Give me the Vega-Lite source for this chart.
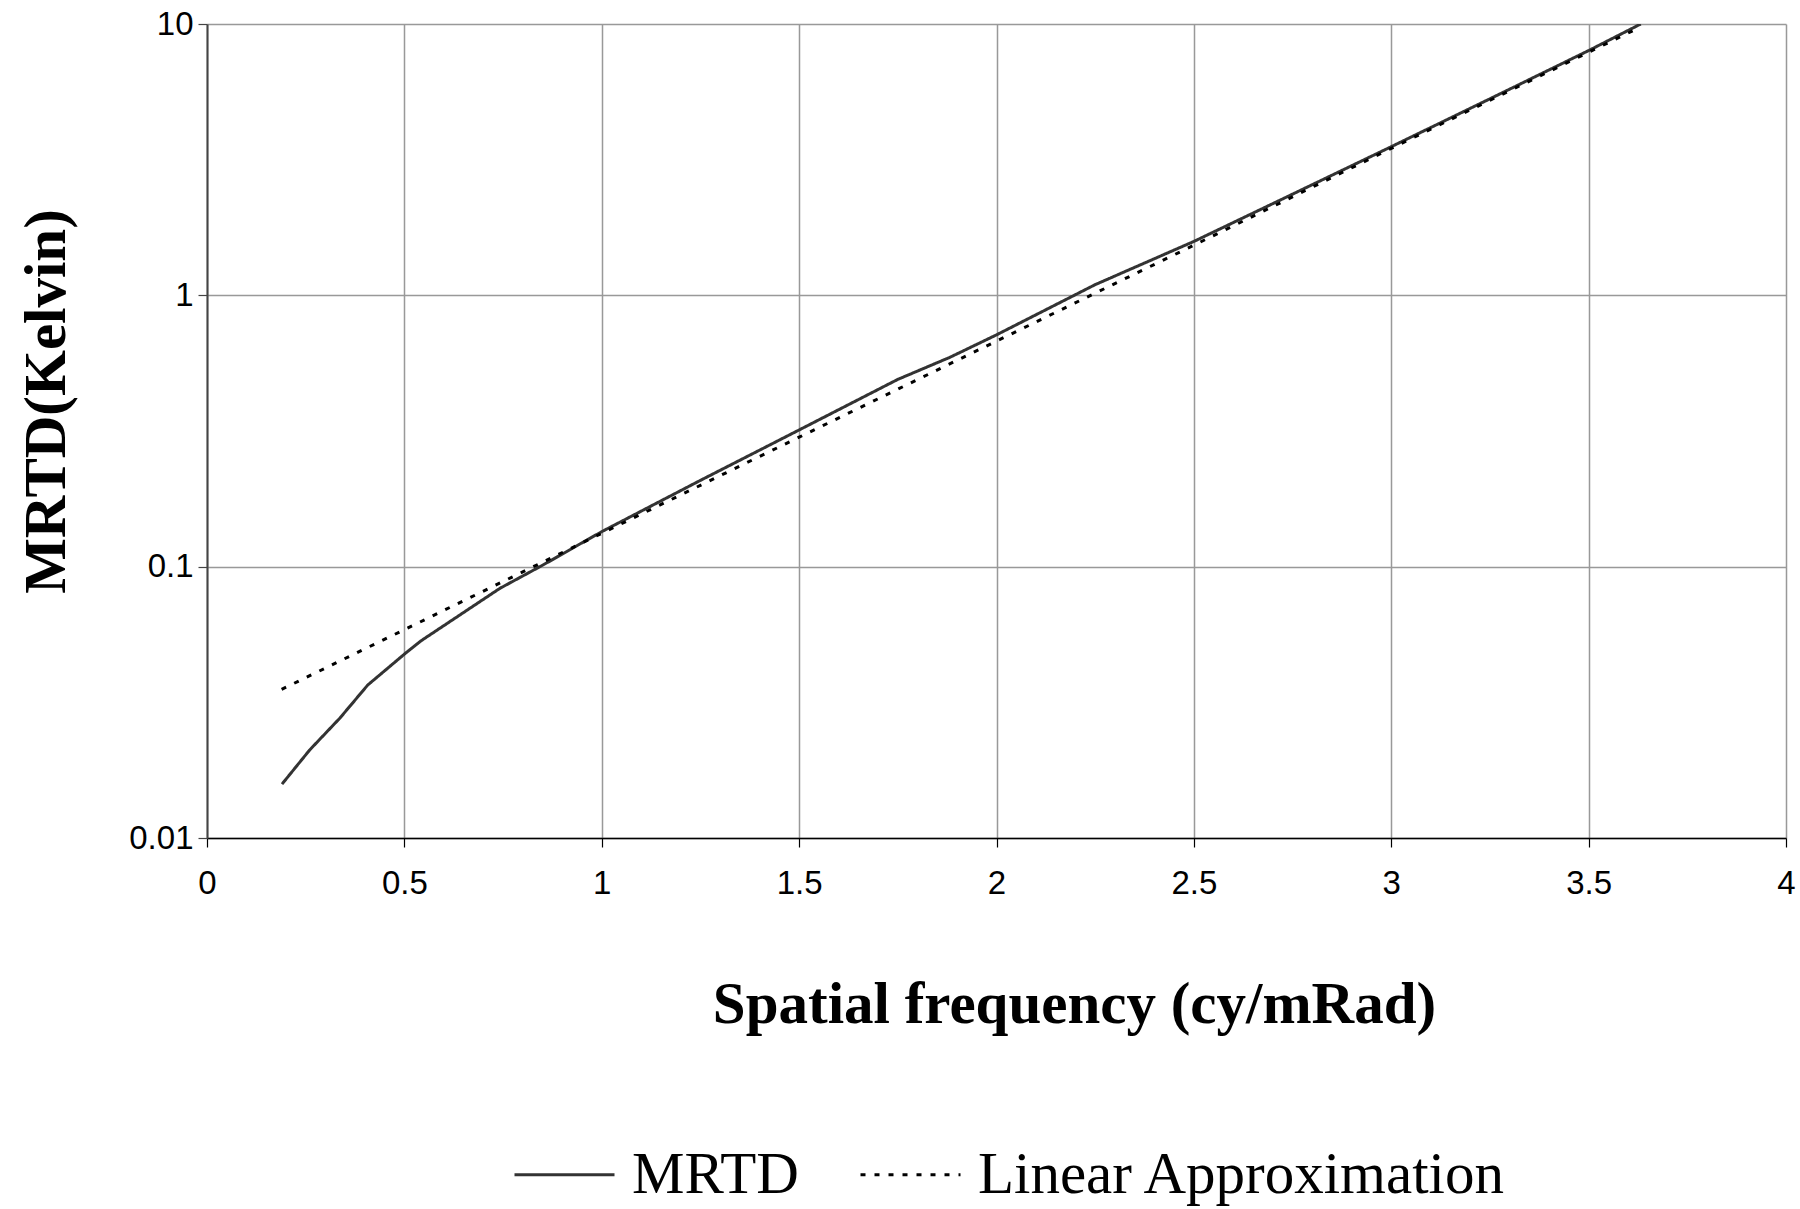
{
  "$schema": "https://vega.github.io/schema/vega-lite/v6.json",
  "width": 1579,
  "height": 814,
  "autosize": {"type": "none"},
  "padding": {"left": 207, "top": 24, "right": 14, "bottom": 371},
  "background": "white",
  "data": {
    "values": [
      {"freq": 0.19, "mrtd": 0.0158, "series": "MRTD"},
      {"freq": 0.26, "mrtd": 0.0211, "series": "MRTD"},
      {"freq": 0.337, "mrtd": 0.0277, "series": "MRTD"},
      {"freq": 0.407, "mrtd": 0.0366, "series": "MRTD"},
      {"freq": 0.503, "mrtd": 0.048, "series": "MRTD"},
      {"freq": 0.543, "mrtd": 0.0534, "series": "MRTD"},
      {"freq": 0.742, "mrtd": 0.0832, "series": "MRTD"},
      {"freq": 0.851, "mrtd": 0.1014, "series": "MRTD"},
      {"freq": 1.0, "mrtd": 0.1346, "series": "MRTD"},
      {"freq": 1.25, "mrtd": 0.208, "series": "MRTD"},
      {"freq": 1.5, "mrtd": 0.319, "series": "MRTD"},
      {"freq": 1.75, "mrtd": 0.49, "series": "MRTD"},
      {"freq": 1.882, "mrtd": 0.591, "series": "MRTD"},
      {"freq": 2.0, "mrtd": 0.715, "series": "MRTD"},
      {"freq": 2.25, "mrtd": 1.095, "series": "MRTD"},
      {"freq": 2.5, "mrtd": 1.58, "series": "MRTD"},
      {"freq": 2.75, "mrtd": 2.36, "series": "MRTD"},
      {"freq": 3.0, "mrtd": 3.53, "series": "MRTD"},
      {"freq": 3.25, "mrtd": 5.3, "series": "MRTD"},
      {"freq": 3.5, "mrtd": 7.98, "series": "MRTD"},
      {"freq": 3.632, "mrtd": 10.0, "series": "MRTD"},
      {"freq": 0.189, "mrtd": 0.0353, "series": "Linear Approximation"},
      {"freq": 0.5, "mrtd": 0.0586, "series": "Linear Approximation"},
      {"freq": 1.0, "mrtd": 0.1327, "series": "Linear Approximation"},
      {"freq": 1.5, "mrtd": 0.3, "series": "Linear Approximation"},
      {"freq": 2.0, "mrtd": 0.678, "series": "Linear Approximation"},
      {"freq": 2.5, "mrtd": 1.53, "series": "Linear Approximation"},
      {"freq": 3.0, "mrtd": 3.48, "series": "Linear Approximation"},
      {"freq": 3.62, "mrtd": 9.57, "series": "Linear Approximation"}
    ]
  },
  "mark": {"type": "line", "strokeWidth": 3, "clip": true},
  "encoding": {
    "x": {
      "field": "freq",
      "type": "quantitative",
      "scale": {"domain": [0, 4], "nice": false, "zero": false},
      "axis": {
        "values": [0, 0.5, 1, 1.5, 2, 2.5, 3, 3.5, 4],
        "format": "~g",
        "title": "Spatial frequency (cy/mRad)",
        "titleX": 867,
        "titleY": 166,
        "titleAlign": "center",
        "titleBaseline": "middle",
        "titleFont": "Liberation Serif",
        "titleFontSize": 59,
        "titleFontWeight": "bold",
        "titleColor": "black",
        "labelFont": "Liberation Sans",
        "labelFontSize": 33,
        "labelColor": "black",
        "labelPadding": 20,
        "labelFlush": false,
        "domainColor": "black",
        "domainWidth": 1.5,
        "tickColor": "black",
        "tickSize": 9,
        "tickWidth": 1.2,
        "grid": true,
        "gridColor": "#999999",
        "gridWidth": 1.5
      }
    },
    "y": {
      "field": "mrtd",
      "type": "quantitative",
      "scale": {"type": "log", "domain": [0.01, 10], "nice": false},
      "axis": {
        "values": [0.01, 0.1, 1, 10],
        "format": "~g",
        "title": "MRTD(Kelvin)",
        "titleX": -161,
        "titleY": 377,
        "titleAngle": -90,
        "titleAlign": "center",
        "titleBaseline": "middle",
        "titleFont": "Liberation Serif",
        "titleFontSize": 59,
        "titleFontWeight": "bold",
        "titleColor": "black",
        "labelFont": "Liberation Sans",
        "labelFontSize": 33,
        "labelColor": "black",
        "labelPadding": 5,
        "labelFlush": false,
        "domainColor": "#444444",
        "domainWidth": 2,
        "tickColor": "#444444",
        "tickSize": 9,
        "tickWidth": 1.2,
        "grid": true,
        "gridColor": "#999999",
        "gridWidth": 1.5
      }
    },
    "color": {
      "field": "series",
      "type": "nominal",
      "scale": {"domain": ["MRTD", "Linear Approximation"], "range": ["#333333", "#000000"]},
      "legend": {
        "title": null,
        "orient": "none",
        "legendX": 306,
        "legendY": 1099,
        "direction": "horizontal",
        "symbolType": "stroke",
        "symbolSize": 10000,
        "symbolStrokeWidth": 3,
        "labelFont": "Liberation Serif",
        "labelFontSize": 59,
        "labelLimit": 0,
        "labelColor": "black",
        "labelOffset": 16,
        "columnPadding": 55,
        "padding": 0
      }
    },
    "strokeDash": {
      "field": "series",
      "type": "nominal",
      "scale": {"domain": ["MRTD", "Linear Approximation"], "range": [[1, 0], [5, 9]]},
      "legend": {
        "title": null,
        "orient": "none",
        "legendX": 306,
        "legendY": 1099,
        "direction": "horizontal",
        "symbolType": "stroke",
        "symbolSize": 10000,
        "symbolStrokeWidth": 3,
        "labelFont": "Liberation Serif",
        "labelFontSize": 59,
        "labelLimit": 0,
        "labelColor": "black",
        "labelOffset": 16,
        "columnPadding": 55,
        "padding": 0
      }
    }
  },
  "config": {"view": {"stroke": null}}
}
